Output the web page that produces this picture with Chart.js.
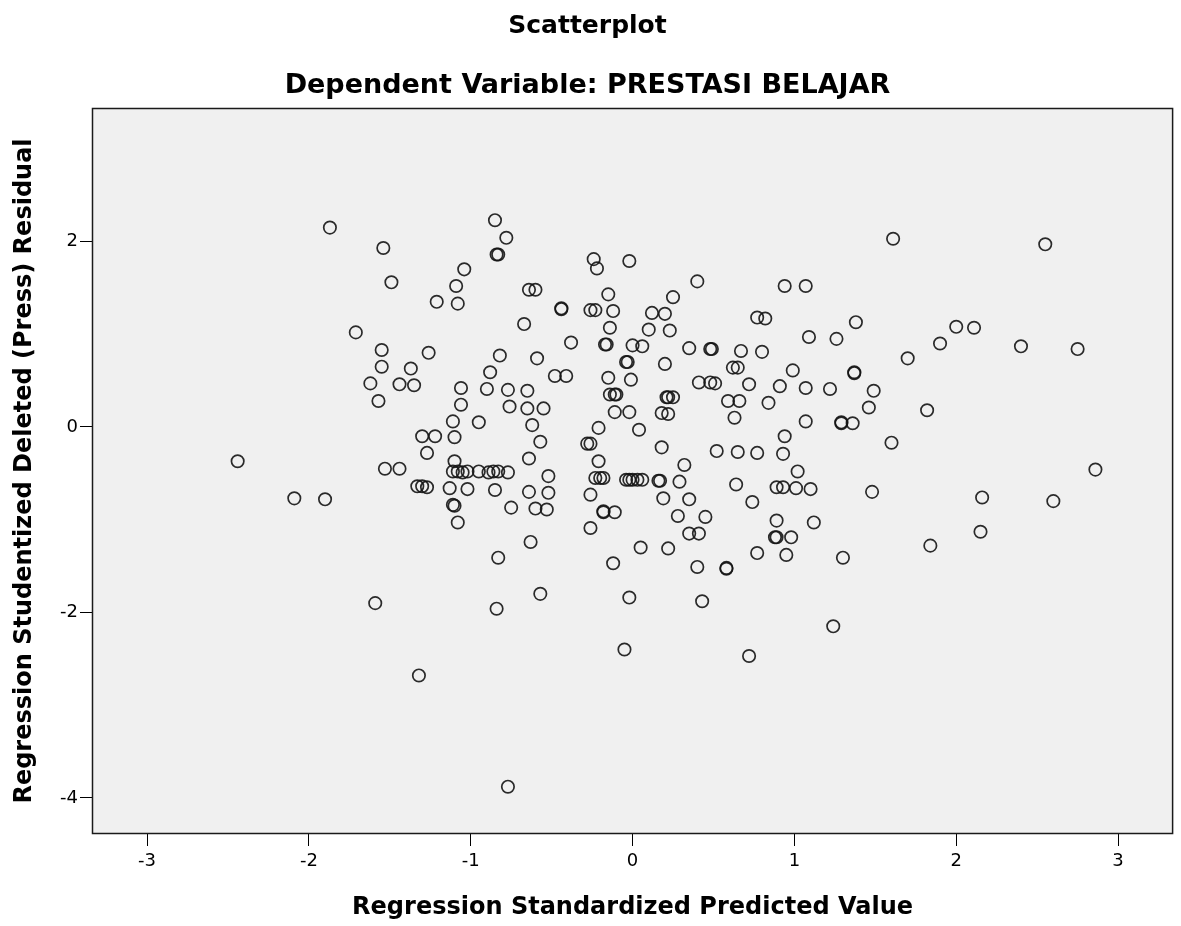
<!DOCTYPE html>
<html>
<head>
<meta charset="utf-8">
<script src="https://cdn.jsdelivr.net/npm/chart.js@4.4.1/dist/chart.umd.min.js"></script>
<style>
html,body{margin:0;padding:0;background:#ffffff;}
#wrap{width:1181px;height:926px;}
canvas{display:block;}
</style>
</head>
<body>
<div id="wrap"><canvas id="c" width="1181" height="926"></canvas></div>
<script>
// Regression Standardized Predicted Value (x)
const predicted = [
 -1.87,-1.54,-1.04,-1.49,-1.09,-1.21,-1.08,-1.71,-1.55,-1.26,
 -1.55,-1.37,-1.62,-1.44,-1.35,-1.06,-1.57,-1.06,-1.11,-0.95,
 -1.30,-1.22,-1.10,-2.44,-1.27,-1.10,-1.53,-1.44,-1.11,-1.08,
 -1.05,-1.02,-0.95,-0.89,-0.86,-0.83,-0.77,-1.33,-1.30,-1.27,
 -1.13,-1.02,-1.11,-1.10,-1.08,-2.09,-1.90,-1.59,-1.32,-0.85,
 -0.78,-0.84,-0.83,-0.24,-0.22,-0.02,0.40,-0.64,-0.60,-0.15,
 0.25,-0.44,-0.44,-0.26,-0.23,-0.12,0.12,0.20,-0.67,-0.14,
 0.10,0.23,-0.38,-0.17,-0.16,0.00,0.06,0.35,0.48,0.49,
 -0.82,-0.59,-0.04,-0.03,0.20,-0.88,-0.48,-0.41,-0.15,-0.01,
 -0.90,-0.77,-0.65,-0.14,-0.11,-0.10,0.41,0.48,0.51,0.21,
 0.22,0.25,-0.76,-0.65,-0.55,-0.11,-0.02,0.18,0.22,-0.62,
 -0.21,0.04,-0.57,-0.28,-0.26,0.18,0.52,0.65,-0.64,-0.21,
 0.32,-0.52,-0.23,-0.20,-0.18,-0.04,-0.02,0.00,0.03,0.06,
 0.16,0.17,0.29,0.64,-0.85,-0.64,-0.52,-0.26,0.19,0.35,
 -0.75,-0.60,-0.53,-0.18,-0.18,-0.11,0.28,0.45,-0.26,0.35,
 0.41,-0.63,0.05,0.22,-0.83,-0.12,0.40,0.58,0.58,-0.57,
 -0.02,0.43,-0.84,-0.05,-0.77,1.61,2.55,0.94,1.07,0.77,
 0.82,1.38,2.00,2.11,1.09,1.26,1.90,2.40,2.75,0.67,
 0.80,1.70,0.62,0.65,0.99,1.37,1.37,0.72,0.91,1.07,
 1.22,1.49,0.59,0.66,0.84,1.46,1.82,0.63,1.07,1.29,
 1.29,1.36,0.94,1.60,0.77,0.93,1.02,2.86,0.89,0.93,
 1.01,1.10,1.48,2.16,2.60,0.74,0.89,1.12,0.88,0.89,
 0.98,2.15,1.84,0.77,0.95,1.30,1.24,0.72
];
// Regression Studentized Deleted (Press) Residual (y)
const residual = [
 2.15,1.93,1.70,1.56,1.52,1.35,1.33,1.02,0.83,0.80,
 0.65,0.63,0.47,0.46,0.45,0.42,0.28,0.24,0.06,0.05,
 -0.10,-0.10,-0.11,-0.37,-0.28,-0.37,-0.45,-0.45,-0.48,-0.48,
 -0.49,-0.48,-0.48,-0.49,-0.48,-0.48,-0.49,-0.64,-0.64,-0.65,
 -0.66,-0.67,-0.84,-0.85,-1.03,-0.77,-0.78,-1.90,-2.68,2.23,
 2.04,1.86,1.86,1.81,1.71,1.79,1.57,1.48,1.48,1.43,
 1.40,1.28,1.27,1.26,1.26,1.25,1.23,1.22,1.11,1.07,
 1.05,1.04,0.91,0.89,0.89,0.88,0.87,0.85,0.84,0.84,
 0.77,0.74,0.70,0.70,0.68,0.59,0.55,0.55,0.53,0.51,
 0.41,0.40,0.39,0.35,0.35,0.35,0.48,0.48,0.47,0.32,
 0.32,0.32,0.22,0.20,0.20,0.16,0.16,0.15,0.14,0.02,
 -0.01,-0.03,-0.16,-0.18,-0.18,-0.22,-0.26,-0.27,-0.34,-0.37,
 -0.41,-0.53,-0.55,-0.55,-0.55,-0.57,-0.57,-0.57,-0.57,-0.57,
 -0.58,-0.58,-0.59,-0.62,-0.68,-0.70,-0.71,-0.73,-0.77,-0.78,
 -0.87,-0.88,-0.89,-0.91,-0.92,-0.92,-0.96,-0.97,-1.09,-1.15,
 -1.15,-1.24,-1.30,-1.31,-1.41,-1.47,-1.51,-1.52,-1.53,-1.80,
 -1.84,-1.88,-1.96,-2.40,-3.88,2.03,1.97,1.52,1.52,1.18,
 1.17,1.13,1.08,1.07,0.97,0.95,0.90,0.87,0.84,0.82,
 0.81,0.74,0.64,0.64,0.61,0.59,0.58,0.46,0.44,0.42,
 0.41,0.39,0.28,0.28,0.26,0.21,0.18,0.10,0.06,0.05,
 0.04,0.04,-0.10,-0.17,-0.28,-0.29,-0.48,-0.46,-0.65,-0.65,
 -0.66,-0.67,-0.70,-0.76,-0.80,-0.81,-1.01,-1.03,-1.19,-1.19,
 -1.19,-1.13,-1.28,-1.36,-1.38,-1.41,-2.15,-2.47
];
const xTicks = [-3, -2, -1, 0, 1, 2, 3];
const yTicks = [-4, -2, 0, 2];
const chartTitle = 'Scatterplot';
const chartSubtitle = 'Dependent Variable: PRESTASI BELAJAR';
const xTitle = 'Regression Standardized Predicted Value';
const yTitle = 'Regression Studentized Deleted (Press) Residual';

const FONT = 'DejaVu Sans';

const framePlugin = {
  id: 'frame',
  beforeDraw(chart) {
    const {ctx, chartArea: a} = chart;
    ctx.save();
    ctx.fillStyle = '#ffffff';
    ctx.fillRect(0, 0, chart.width, chart.height);
    ctx.fillStyle = '#f0f0f0';
    ctx.fillRect(a.left, a.top, a.right - a.left, a.bottom - a.top);
    ctx.restore();
  },
  afterDraw(chart) {
    const {ctx, chartArea: a} = chart;
    ctx.save();
    ctx.strokeStyle = '#1a1a1a';
    ctx.lineWidth = 1.5;
    ctx.strokeRect(a.left + 0.5, a.top + 0.5, a.right - a.left - 1, a.bottom - a.top - 1);
    ctx.restore();
  }
};

new Chart(document.getElementById('c'), {
  type: 'scatter',
  data: {
    datasets: [{
      data: predicted.map((x, i) => ({x: x, y: residual[i]})),
      showLine: false,
      pointStyle: 'circle',
      pointRadius: 6.2,
      pointBorderWidth: 1.7,
      pointBorderColor: 'rgba(20,20,20,0.9)',
      pointBackgroundColor: 'rgba(0,0,0,0)',
      pointHoverRadius: 6.2
    }]
  },
  options: {
    responsive: false,
    animation: false,
    events: [],
    layout: {padding: {left: 0, right: 6, top: 0, bottom: 0}},
    plugins: {
      legend: {display: false},
      tooltip: {enabled: false},
      title: {
        display: true, text: chartTitle, color: '#000',
        font: {family: FONT, size: 25, weight: 'bold'},
        padding: {top: 11, bottom: 0}
      },
      subtitle: {
        display: true, text: chartSubtitle, color: '#000',
        font: {family: FONT, size: 27, weight: 'bold'},
        padding: {top: 29, bottom: 5.6}
      }
    },
    scales: {
      x: {
        type: 'linear', min: -3.34, max: 3.34,
        afterBuildTicks: s => { s.ticks = xTicks.map(v => ({value: v})); },
        afterFit: s => { s.height = 92; },
        grid: {drawOnChartArea: false, drawTicks: true, tickLength: 12, color: '#000', lineWidth: 1},
        border: {display: false},
        ticks: {color: '#000', font: {family: FONT, size: 18}, padding: 5, maxRotation: 0, autoSkip: false},
        title: {display: true, text: xTitle, color: '#000',
          font: {family: FONT, size: 24, weight: 'bold'}, padding: {top: 0, bottom: 4}}
      },
      y: {
        type: 'linear', min: -4.39, max: 3.44,
        afterBuildTicks: s => { s.ticks = yTicks.map(v => ({value: v})); },
        afterFit: s => { s.width = 92; },
        grid: {drawOnChartArea: false, drawTicks: true, tickLength: 12, color: '#000', lineWidth: 1},
        border: {display: false},
        ticks: {color: '#000', font: {family: FONT, size: 18}, padding: 2, autoSkip: false},
        title: {display: true, text: yTitle, color: '#000',
          font: {family: FONT, size: 24, weight: 'bold'}, padding: {top: 10, bottom: 0}}
      }
    }
  },
  plugins: [framePlugin]
});
</script>
</body>
</html>
